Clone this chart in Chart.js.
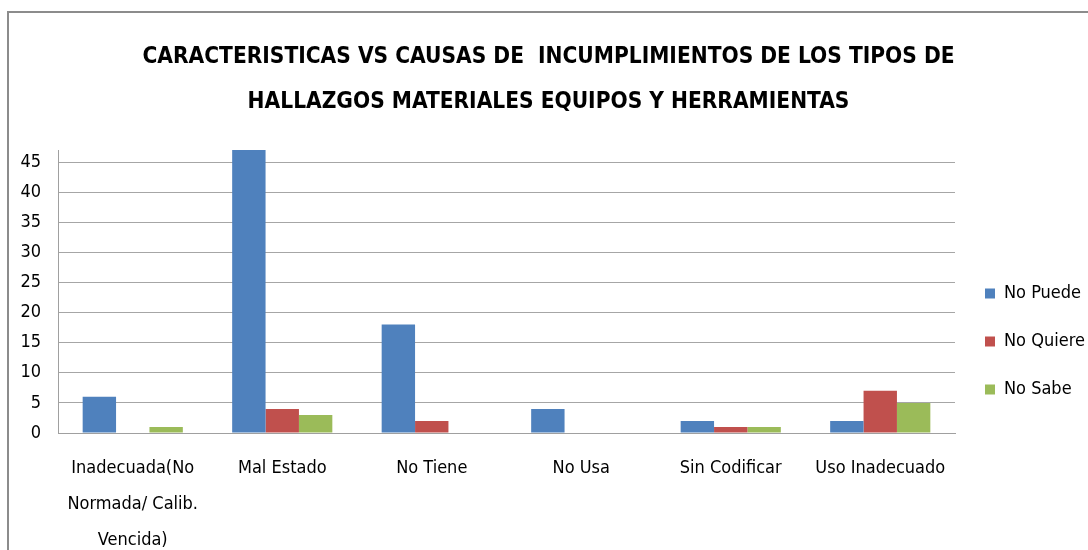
<!DOCTYPE html>
<html>
<head>
<meta charset="utf-8">
<script src="https://cdn.jsdelivr.net/npm/chart.js@4"></script>
<style>
    body { margin: 0; background: #fff; }
    .frame {
        position: absolute; left: 7px; top: 11px;
        width: 1079px; height: 537px;
        border-left: 2px solid #8c8c8c; border-top: 2px solid #8c8c8c;
    }
</style>
</head>
<body>
<div class="frame">
    <canvas id="chart" width="1079" height="537"></canvas>
</div>
<script>
// categories (x axis)
const categories = [
    ['Inadecuada(No', 'Normada/ Calib.', 'Vencida)'],
    'Mal Estado',
    'No Tiene',
    'No Usa',
    'Sin Codificar',
    'Uso Inadecuado'
];

// series values
const noPuede  = [6, 47, 18, 4, 2, 2];
const noQuiere = [0, 4, 2, 0, 1, 7];
const noSabe   = [1, 3, 0, 0, 1, 5];

// y tick labels
const yTicks = [0, 5, 10, 15, 20, 25, 30, 35, 40, 45];

const titleLines = [
    'CARACTERISTICAS VS CAUSAS DE  INCUMPLIMIENTOS DE LOS TIPOS DE',
    'HALLAZGOS MATERIALES EQUIPOS Y HERRAMIENTAS'
];

const FONT = '"Liberation Sans Narrow", "DejaVu Sans Condensed", "Liberation Sans", sans-serif';

new Chart(document.getElementById('chart'), {
    type: 'bar',
    data: {
        labels: categories,
        datasets: [
            { label: 'No Puede', data: noPuede, backgroundColor: '#4F81BD' },
            { label: 'No Quiere', data: noQuiere, backgroundColor: '#C0504D' },
            { label: 'No Sabe', data: noSabe, backgroundColor: '#9BBB59' },
        ]
    },
    options: {
        responsive: false,
        animation: false,
        categoryPercentage: 0.67,
        barPercentage: 1.0,
        layout: { padding: 0 },
        plugins: {
            title: {
                display: true,
                text: titleLines,
                color: '#000',
                font: { family: FONT, size: 22.5, weight: 'bold', lineHeight: 2.0 },
                padding: { top: 22, bottom: 25 },
            },
            legend: {
                position: 'right',
                maxWidth: 133,
                title: {
                    // spacer: pushes the centred items down
                    display: true,
                    text: ' ',
                    font: { size: 12, lineHeight: 1.2 },
                    padding: { top: 0, bottom: 105.6 },
                },
                labels: {
                    color: '#000',
                    boxWidth: 10,
                    boxHeight: 10,
                    padding: 30,
                    font: { family: FONT, size: 18 },
                },
            },
            tooltip: { enabled: false },
        },
        scales: {
            x: {
                grid: { display: false },
                border: { display: true, color: '#a0a0a0' },
                ticks: {
                    color: '#000',
                    maxRotation: 0,
                    autoSkip: false,
                    padding: 9,
                    font: { family: FONT, size: 18, lineHeight: 2.0 },
                },
                afterFit: (scale) => { scale.height = 117; },
            },
            y: {
                min: 0,
                max: 47,
                ticks: {
                    color: '#000',
                    padding: 17,
                    font: { family: FONT, size: 18 },
                },
                afterBuildTicks: (scale) => {
                    scale.ticks = yTicks.map((v) => ({ value: v }));
                },
                grid: { color: '#a6a6a6', drawTicks: false },
                border: { display: true, color: '#a0a0a0' },
                afterFit: (scale) => { scale.width = 49; },
            },
        },
    },
});
</script>
</body>
</html>
